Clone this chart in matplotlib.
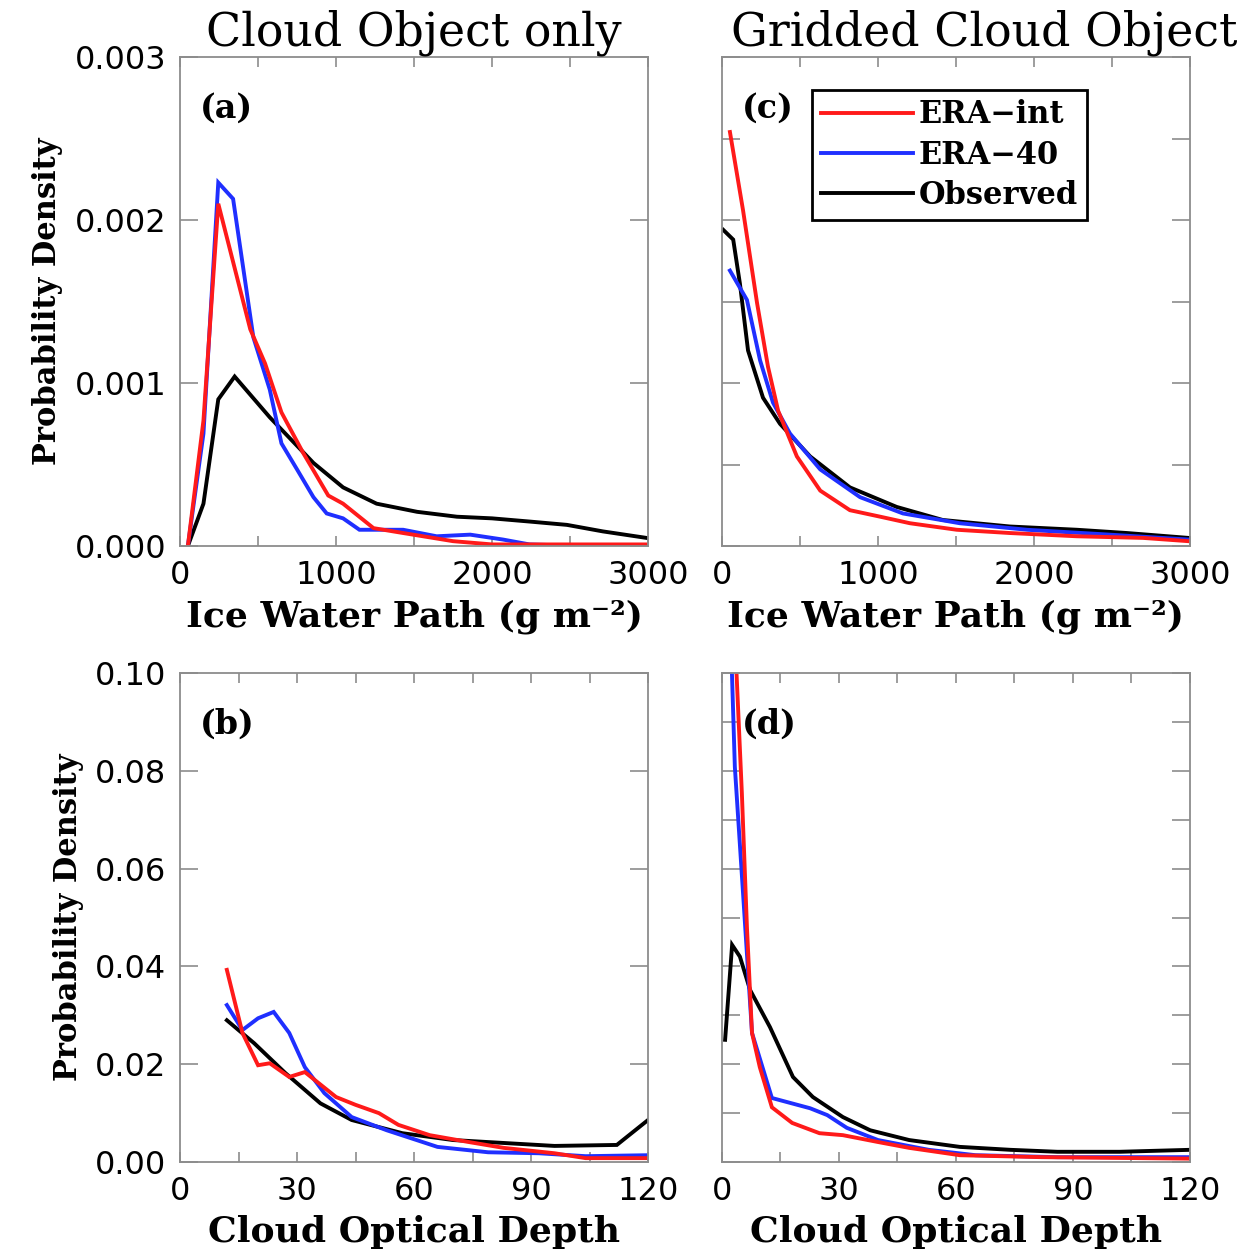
import matplotlib
matplotlib.use("Agg")
import matplotlib.pyplot as plt
from matplotlib.ticker import MultipleLocator, FormatStrFormatter

# Panel (a): cloud object only, ice water path
IWP_A_ERAINT_X = [50, 150, 245, 450, 545, 650, 790, 950, 1045, 1240, 1430, 1750, 2000, 2300, 2600, 3000]
IWP_A_ERAINT_Y = [0.0, 0.00077, 0.0021, 0.00133, 0.00112, 0.00082, 0.00057, 0.00031, 0.00026,
                  0.00011, 0.00008, 0.00003, 0.00001, 0.00001, 0.00001, 0.00001]
IWP_A_ERA40_X = [50, 150, 245, 340, 470, 575, 650, 750, 855, 940, 1045, 1150, 1430, 1645, 1860,
                 2070, 2240, 2600, 3000]
IWP_A_ERA40_Y = [0.0, 0.00069, 0.00223, 0.00213, 0.00128, 0.00096, 0.00063, 0.00047, 0.0003,
                 0.0002, 0.00017, 0.0001, 0.0001, 0.00006, 0.00007, 0.00004, 0.00001, 0.0, 0.0]
IWP_A_OBS_X = [50, 150, 245, 350, 575, 855, 1045, 1260, 1520, 1775, 2000, 2245, 2480, 2710, 2990]
IWP_A_OBS_Y = [0.0, 0.00026, 0.0009, 0.00104, 0.00079, 0.00051, 0.00036, 0.00026, 0.00021,
               0.00018, 0.00017, 0.00015, 0.00013, 0.00009, 0.00005]

# Panel (c): gridded cloud object, ice water path
IWP_C_ERAINT_X = [51, 135, 225, 295, 360, 480, 630, 820, 1015, 1205, 1505, 1845, 2275, 2700, 2990]
IWP_C_ERAINT_Y = [0.00254, 0.00206, 0.00149, 0.0011, 0.00083, 0.00055, 0.00034, 0.00022, 0.00018,
                  0.00014, 0.0001, 0.00008, 0.00006, 0.00005, 0.00003]
IWP_C_ERA40_X = [51, 160, 244, 327, 436, 630, 885, 1160, 1525, 1955, 2485, 2990]
IWP_C_ERA40_Y = [0.00169, 0.00151, 0.00114, 0.00088, 0.00069, 0.00047, 0.0003, 0.0002, 0.00014,
                 0.0001, 0.00007, 0.00004]
IWP_C_OBS_X = [8, 72, 115, 167, 263, 372, 565, 820, 1120, 1415, 1845, 2275, 2595, 2990]
IWP_C_OBS_Y = [0.00194, 0.00188, 0.00161, 0.0012, 0.00091, 0.00075, 0.00055, 0.00036, 0.00024,
               0.00016, 0.00012, 0.0001, 0.00008, 0.00005]

# Panel (b): cloud object only, optical depth
COD_B_ERAINT_X = [12, 16, 20, 23, 28, 32, 40, 45, 51, 56, 64, 74, 83, 96, 104, 120]
COD_B_ERAINT_Y = [0.0393, 0.0264, 0.0198, 0.0202, 0.0174, 0.0184, 0.0133, 0.0117, 0.010, 0.0076,
                  0.0055, 0.0041, 0.0029, 0.0018, 0.0008, 0.0008]
COD_B_ERA40_X = [12, 16, 20, 24, 28, 32, 37, 44, 53, 66, 79, 92, 104, 120]
COD_B_ERA40_Y = [0.0321, 0.027, 0.0294, 0.0307, 0.0264, 0.0194, 0.0141, 0.0092, 0.0065, 0.0031,
                 0.002, 0.0018, 0.0012, 0.0014]
COD_B_OBS_X = [12, 19, 27, 36, 44, 57, 70, 83, 96, 112, 120]
COD_B_OBS_Y = [0.029, 0.0243, 0.0182, 0.012, 0.0086, 0.0059, 0.0045, 0.0039, 0.0033, 0.0035, 0.0086]

# Panel (d): gridded cloud object, optical depth
COD_D_ERAINT_X = [1.5, 5.1, 6.4, 7.7, 9.7, 12.8, 18, 25, 31, 40, 48, 61, 82, 120]
COD_D_ERAINT_Y = [0.14, 0.0754, 0.048, 0.0264, 0.0194, 0.0112, 0.008, 0.0059, 0.0055, 0.0041,
                  0.0029, 0.0014, 0.001, 0.0007]
COD_D_ERA40_X = [1.0, 3.3, 5.4, 7.7, 12.8, 22.6, 27, 32, 40, 53, 65, 86, 120]
COD_D_ERA40_Y = [0.14, 0.0808, 0.055, 0.0264, 0.0131, 0.011, 0.0096, 0.007, 0.0045, 0.0025,
                 0.0014, 0.001, 0.001]
COD_D_OBS_X = [0.8, 2.6, 4.6, 7.2, 12.3, 18.2, 23.3, 31, 38, 48, 61, 74, 86, 102, 120]
COD_D_OBS_Y = [0.025, 0.0444, 0.042, 0.0352, 0.0276, 0.0174, 0.0133, 0.0092, 0.0065, 0.0045,
               0.0031, 0.0025, 0.0021, 0.0021, 0.0025]

TITLES = ["Cloud Object only", "Gridded Cloud Object"]
SERIES_NAMES = ["ERA\u2212int", "ERA\u221240", "Observed"]
COLORS = ["#ff1a1a", "#1f2fff", "#000000"]
IWP_TICKS = [0, 1000, 2000, 3000]
COD_TICKS = [0, 30, 60, 90, 120]
IWP_PDF_TICKS = [0.0, 0.001, 0.002, 0.003]
COD_PDF_TICKS = [0.0, 0.02, 0.04, 0.06, 0.08, 0.10]

SERIF = "DejaVu Serif"
SANS = "DejaVu Sans"
FRAME = "#8c8c8c"

fig = plt.figure(figsize=(12.53, 12.51), dpi=100)

W = 0.3735
H = 0.3909
positions = {
    "a": [0.1437, 0.5635, W, H],
    "c": [0.5762, 0.5635, W, H],
    "b": [0.1437, 0.0711, W, H],
    "d": [0.5762, 0.0711, W, H],
}

panels = {
    "a": [(IWP_A_ERAINT_X, IWP_A_ERAINT_Y), (IWP_A_ERA40_X, IWP_A_ERA40_Y), (IWP_A_OBS_X, IWP_A_OBS_Y)],
    "c": [(IWP_C_ERAINT_X, IWP_C_ERAINT_Y), (IWP_C_ERA40_X, IWP_C_ERA40_Y), (IWP_C_OBS_X, IWP_C_OBS_Y)],
    "b": [(COD_B_ERAINT_X, COD_B_ERAINT_Y), (COD_B_ERA40_X, COD_B_ERA40_Y), (COD_B_OBS_X, COD_B_OBS_Y)],
    "d": [(COD_D_ERAINT_X, COD_D_ERAINT_Y), (COD_D_ERA40_X, COD_D_ERA40_Y), (COD_D_OBS_X, COD_D_OBS_Y)],
}

for key in ["a", "c", "b", "d"]:
    ax = fig.add_axes(positions[key])
    top = key in ("a", "c")
    left = key in ("a", "b")

    # Draw order: observed first, then ERA-40, then ERA-int on top.
    lines = {}
    for i in [2, 1, 0]:
        xs, ys = panels[key][i]
        ln, = ax.plot(xs, ys, color=COLORS[i], lw=2.8, solid_joinstyle="miter")
        lines[i] = ln

    if top:
        ax.set_xlim(0, 3000)
        ax.set_ylim(0, 0.003)
        ax.set_xticks(IWP_TICKS)
        ax.xaxis.set_minor_locator(MultipleLocator(500))
        ax.set_yticks(IWP_PDF_TICKS)
        ax.yaxis.set_major_formatter(FormatStrFormatter("%.3f"))
        if key == "c":
            ax.yaxis.set_minor_locator(MultipleLocator(0.0005))
        ax.set_xlabel("Ice Water Path (g m\u207b\u00b2)", family=SERIF, weight="bold",
                      fontsize=26, labelpad=6)
        if left:
            ax.set_title(TITLES[0], family=SERIF, fontsize=33, pad=8)
        else:
            ax.set_title(TITLES[1], family=SERIF, fontsize=33, pad=8, x=0.56)
    else:
        ax.set_xlim(0, 120)
        ax.set_ylim(0, 0.10)
        ax.set_xticks(COD_TICKS)
        ax.xaxis.set_minor_locator(MultipleLocator(15))
        ax.set_yticks(COD_PDF_TICKS)
        ax.yaxis.set_major_formatter(FormatStrFormatter("%.2f"))
        if key == "d":
            ax.yaxis.set_minor_locator(MultipleLocator(0.01))
        ax.set_xlabel("Cloud Optical Depth", family=SERIF, weight="bold", fontsize=26, labelpad=6)

    if left:
        ax.set_ylabel("Probability Density", family=SERIF, weight="bold", fontsize=22, labelpad=8)
    else:
        ax.tick_params(axis="y", which="both", labelleft=False)

    ax.tick_params(axis="both", which="both", direction="in", top=True, right=True,
                   color=FRAME, width=1.2)
    ax.tick_params(axis="x", which="both", length=7, pad=10, labelsize=23)
    ax.tick_params(axis="y", which="both", length=13, pad=10, labelsize=23)
    for lab in ax.get_xticklabels() + ax.get_yticklabels():
        lab.set_family(SANS)

    for sp in ax.spines.values():
        sp.set_color(FRAME)
        sp.set_linewidth(1.3)

    ax.text(0.043, 0.93, "(" + key + ")", transform=ax.transAxes, family=SERIF,
            weight="bold", fontsize=24, va="top", ha="left")

    if key == "c":
        handles = [lines[i] for i in [0, 1, 2]]
        leg = ax.legend(handles, SERIES_NAMES, loc="upper left", bbox_to_anchor=(0.192, 0.932),
                        borderaxespad=0, handlelength=3.0, handletextpad=0.2,
                        labelspacing=0.3, borderpad=0.3, fancybox=False, framealpha=1,
                        prop={"family": SERIF, "weight": "bold", "size": 22})
        leg.get_frame().set_edgecolor("black")
        leg.get_frame().set_linewidth(2)

fig.savefig("out.png", dpi=100)
